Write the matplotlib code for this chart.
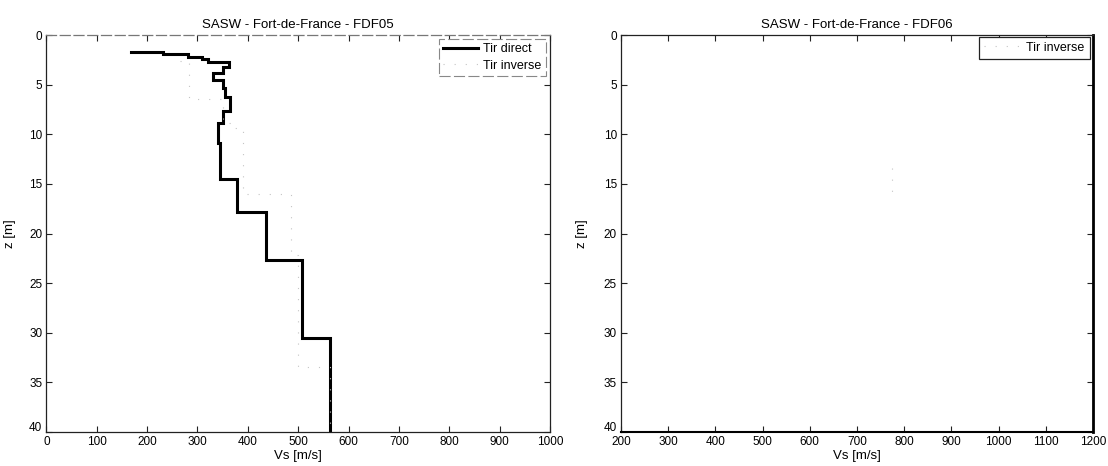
import matplotlib
matplotlib.use("Agg")
import matplotlib.pyplot as plt
import matplotlib.transforms as mtransforms

plt.rcParams['font.family'] = ['Liberation Sans', 'DejaVu Sans']

# ---------------- data ----------------
titles = ["SASW - Fort-de-France - FDF05", "SASW - Fort-de-France - FDF06"]
xlabel = "Vs [m/s]"
ylabel = "z [m]"
legend_direct = "Tir direct"
legend_inverse = "Tir inverse"

# FDF05 - Tir direct : layer velocities and layer interfaces (depth, m)
vs_direct = [167, 232, 282, 308, 321, 363, 350, 331, 350, 354, 364, 351, 340, 344, 379, 436, 507, 563]
z_direct = [1.75, 1.75, 1.90, 2.18, 2.45, 2.69, 3.19, 3.79, 4.53, 5.37, 6.21, 7.62, 8.89, 10.9, 14.5, 17.8, 22.7, 30.5, 40.0]

# FDF05 - Tir inverse (faint dotted)
vs_inverse05 = [265, 283, 351, 371, 390, 485, 500, 563]
z_inverse05 = [2.58, 2.65, 6.45, 8.85, 9.4, 16.0, 22.2, 33.5, 40.0]

# FDF06 - Tir inverse (faint dotted)
vs_inverse06 = [775]
z_inverse06 = [13.4, 16.0]

xticks05 = list(range(0, 1001, 100))
xticks06 = list(range(200, 1201, 100))
yticks = list(range(0, 41, 5))


def step_path(vs, zs):
    xs, ys = [], []
    for i, v in enumerate(vs):
        xs += [v, v]
        ys += [zs[i], zs[i + 1]]
    return xs, ys


W, H = 1108, 466
fig = plt.figure(figsize=(W / 100, H / 100), dpi=100)

ax_top, ax_bot = 35, 432
axL = fig.add_axes([46.4 / W, (H - ax_bot) / H, (550 - 46.4) / W, (ax_bot - ax_top) / H])
axR = fig.add_axes([621 / W, (H - ax_bot) / H, (1093 - 621) / W, (ax_bot - ax_top) / H])

inv_style = dict(color='#c4c4c4', lw=0.8, linestyle=(0, (1, 9)))

xd, yd = step_path(vs_direct, z_direct)
axL.plot(xd, yd, color='black', lw=2.2, solid_joinstyle='miter', label=legend_direct)
xi, yi = step_path(vs_inverse05, z_inverse05)
axL.plot(xi, yi, label=legend_inverse, **inv_style)

xi6, yi6 = step_path(vs_inverse06, z_inverse06)
axR.plot(xi6, yi6, label=legend_inverse, **inv_style)

for ax, xt, title in [(axL, xticks05, titles[0]), (axR, xticks06, titles[1])]:
    ax.set_xlim(xt[0], xt[-1])
    ax.set_ylim(40, 0)
    ax.set_xticks(xt)
    ax.set_yticks(yticks)
    ax.tick_params(direction='in', length=4, width=0.8, top=True, right=True,
                   labelsize=8.5, pad=3, colors='#222222', labelcolor='black')
    ax.set_title(title, fontsize=9.5, pad=5)
    ax.set_xlabel(xlabel, fontsize=9.5, labelpad=1)
    ax.set_ylabel(ylabel, fontsize=9.5)
    for s in ax.spines.values():
        s.set_color('#222222')
        s.set_linewidth(0.9)
    # the bottom y label ("40") sits a little above the corner, as in the reference
    fig.canvas.draw()
    lab = ax.get_yticklabels()[-1]
    lab.set_transform(lab.get_transform() + mtransforms.ScaledTranslation(0, 4 / 72, fig.dpi_scale_trans))

axL.yaxis.set_label_coords(-0.060, 0.5)
axR.yaxis.set_label_coords(-0.070, 0.5)

# scanned look of the frames
axL.spines['top'].set_linestyle((0, (8, 3)))
axL.spines['top'].set_color('#777777')
axR.spines['right'].set_linewidth(2.0)
axR.spines['right'].set_color('black')
axR.spines['bottom'].set_linewidth(1.5)
axR.spines['bottom'].set_color('black')

legL = axL.legend(loc='upper right', bbox_to_anchor=(0.992, 0.990), borderaxespad=0,
                  fontsize=9, handlelength=2.8, handletextpad=0.4, labelspacing=0.35,
                  fancybox=False, framealpha=1, borderpad=0.35)
legL.get_frame().set_edgecolor('#888888')
legL.get_frame().set_linewidth(0.8)
legL.get_frame().set_linestyle((0, (10, 3)))

legR = axR.legend(loc='upper right', bbox_to_anchor=(0.9926, 0.9957), borderaxespad=0,
                  fontsize=9, handlelength=2.8, handletextpad=0.6,
                  fancybox=False, framealpha=1, borderpad=0.4)
legR.get_frame().set_edgecolor('#222222')
legR.get_frame().set_linewidth(0.9)

fig.savefig("out.png", dpi=100)
